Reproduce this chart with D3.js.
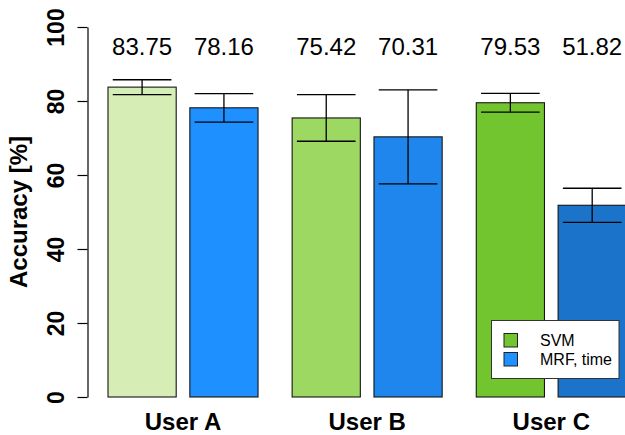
<!DOCTYPE html>
<html>
<head>
<meta charset="utf-8">
<script src="https://cdn.jsdelivr.net/npm/d3@7"></script>
<style>
  html, body { margin: 0; padding: 0; background: #fff; }
  svg { display: block; font-family: Arial, "Liberation Sans", Helvetica, sans-serif; }
</style>
</head>
<body>
<svg id="chart" width="625" height="435"></svg>
<script>
// Mean accuracy (%) per user and classifier, with error-bar half-widths
const categories = ["User A", "User B", "User C"];
const seriesNames = ["SVM", "MRF, time"];
const svmMeans = [83.75, 75.42, 79.53];
const mrfMeans = [78.16, 70.31, 51.82];
const svmErrors = [2.0, 6.3, 2.55];
const mrfErrors = [3.85, 12.7, 4.6];
const yTickValues = [0, 20, 40, 60, 80, 100];

// Fill shades: each user gets its own tint of the series colour
const svmFills = ["#d6edb6", "#9dd862", "#72c52e"];
const mrfFills = ["#1e90ff", "#1e86ec", "#1b74c9"];
const legendFills = ["#72c52e", "#1e90ff"];

const rows = [];
categories.forEach((c, gi) => {
  rows.push({ cat: c, series: seriesNames[0], mean: svmMeans[gi], err: svmErrors[gi], fill: svmFills[gi] });
  rows.push({ cat: c, series: seriesNames[1], mean: mrfMeans[gi], err: mrfErrors[gi], fill: mrfFills[gi] });
});

const svg = d3.select("#chart");

const y = d3.scaleLinear().domain([0, 100]).range([397, 27]);

const x0 = d3.scaleBand()
  .domain(categories)
  .range([108, 626.3])
  .paddingInner(0.5 / 2.7)
  .paddingOuter(0);

const x1 = d3.scaleBand()
  .domain(seriesNames)
  .range([0, x0.bandwidth()])
  .paddingInner(0.2 / 1.2)
  .paddingOuter(0);

const barX = d => x0(d.cat) + x1(d.series);
const barCx = d => barX(d) + x1.bandwidth() / 2;

// Bars
svg.append("g").selectAll("rect")
  .data(rows)
  .join("rect")
  .attr("x", barX)
  .attr("y", d => y(d.mean))
  .attr("width", x1.bandwidth())
  .attr("height", d => y(0) - y(d.mean))
  .attr("fill", d => d.fill)
  .attr("stroke", "#151515")
  .attr("stroke-width", 1.1);

// Error bars
const capHalf = x1.bandwidth() * 0.43;
const eb = svg.append("g").attr("stroke", "#000").attr("stroke-width", 1.3).attr("fill", "none");
eb.selectAll("line.v")
  .data(rows).join("line").attr("class", "v")
  .attr("x1", barCx).attr("x2", barCx)
  .attr("y1", d => y(d.mean + d.err)).attr("y2", d => y(d.mean - d.err));
eb.selectAll("line.top")
  .data(rows).join("line").attr("class", "top")
  .attr("x1", d => barCx(d) - capHalf).attr("x2", d => barCx(d) + capHalf)
  .attr("y1", d => y(d.mean + d.err)).attr("y2", d => y(d.mean + d.err));
eb.selectAll("line.bot")
  .data(rows).join("line").attr("class", "bot")
  .attr("x1", d => barCx(d) - capHalf).attr("x2", d => barCx(d) + capHalf)
  .attr("y1", d => y(d.mean - d.err)).attr("y2", d => y(d.mean - d.err));

// Value labels above the bars
svg.append("g").selectAll("text")
  .data(rows).join("text")
  .attr("x", barCx)
  .attr("y", 55)
  .attr("text-anchor", "middle")
  .attr("font-size", 24)
  .attr("fill", "#000")
  .text(d => d.mean.toFixed(2));

// Y axis
const yAxis = d3.axisLeft(y).tickValues(yTickValues).tickSize(10).tickSizeOuter(0).tickFormat(d3.format("d"));
const ax = svg.append("g").attr("transform", "translate(87.5,0)").call(yAxis);
ax.select(".domain").attr("stroke", "#000").attr("stroke-width", 1.2);
ax.selectAll(".tick line").attr("stroke", "#000").attr("stroke-width", 1.2);
ax.selectAll(".tick text")
  .attr("x", null).attr("dy", null)
  .attr("transform", "translate(-24,0) rotate(-90)")
  .attr("text-anchor", "middle")
  .attr("font-size", 23)
  .attr("font-weight", "bold")
  .attr("font-family", "Arial, 'Liberation Sans', Helvetica, sans-serif")
  .attr("fill", "#000");

// Y axis title
svg.append("text")
  .attr("transform", `translate(27,${(y(0) + y(100)) / 2}) rotate(-90)`)
  .attr("text-anchor", "middle")
  .attr("font-size", 24)
  .attr("font-weight", "bold")
  .text("Accuracy [%]");

// Group labels
svg.append("g").selectAll("text")
  .data(categories).join("text")
  .attr("x", c => x0(c) + x0.bandwidth() / 2)
  .attr("y", 430)
  .attr("text-anchor", "middle")
  .attr("font-size", 24)
  .attr("font-weight", "bold")
  .text(c => c);

// Legend
const lg = svg.append("g");
lg.append("rect")
  .attr("x", 491.5).attr("y", 320.5).attr("width", 127.5).attr("height", 58)
  .attr("fill", "#fff").attr("stroke", "#333").attr("stroke-width", 1);
seriesNames.forEach((s, i) => {
  lg.append("rect")
    .attr("x", 504).attr("y", 333.5 + i * 19).attr("width", 13.5).attr("height", 13.5)
    .attr("fill", legendFills[i]).attr("stroke", "#222").attr("stroke-width", 1);
  lg.append("text")
    .attr("x", 540).attr("y", 346 + i * 19)
    .attr("font-size", 16)
    .text(s);
});
</script>
</body>
</html>
